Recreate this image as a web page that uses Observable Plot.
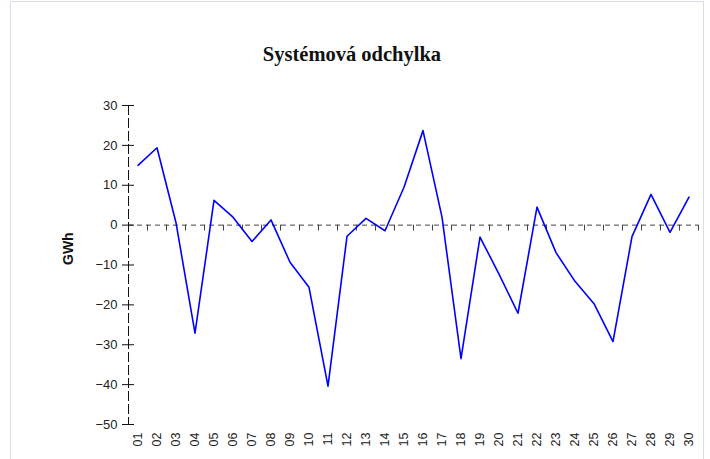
<!DOCTYPE html>
<html>
<head>
<meta charset="utf-8">
<script src="https://cdn.jsdelivr.net/npm/d3@7"></script>
<script src="https://cdn.jsdelivr.net/npm/@observablehq/plot@0.6"></script>
<style>
  html, body { margin: 0; padding: 0; background: #fff; }
  #wrap { position: relative; width: 710px; height: 459px; overflow: hidden; }
  #panel { position: absolute; left: 10px; top: 1px; width: 694px; height: 470px;
           border: 1px solid #d8deec; box-sizing: border-box; }
  #title { position: absolute; left: 0; top: 0; width: 704px; height: 80px; line-height: 108px;
           text-align: center; font-family: "Liberation Serif", "Times New Roman", serif;
           font-weight: bold; font-size: 20.5px; color: #111; }
  #chart { position: absolute; left: 0; top: 80px; }
</style>
</head>
<body>
<div id="wrap">
  <div id="panel"></div>
  <div id="title">Systémová odchylka</div>
  <div id="chart"></div>
</div>
<script>
const title = "Systémová odchylka";
const yLabel = "GWh";
const days = ["01","02","03","04","05","06","07","08","09","10",
              "11","12","13","14","15","16","17","18","19","20",
              "21","22","23","24","25","26","27","28","29","30"];
const values = [15.0, 19.4, 0.6, -27.1, 6.2, 2.0, -4.1, 1.3, -9.3, -15.6,
                -40.4, -2.8, 1.7, -1.4, 9.5, 23.7, 2.0, -33.5, -3.0, -12.3,
                -22.1, 4.5, -6.9, -14.1, -19.7, -29.2, -2.9, 7.7, -1.8, 7.0];
const yTicks = [-50, -40, -30, -20, -10, 0, 10, 20, 30];

const W = 710, ML = 128, MR = 12;
const plotW = W - ML - MR;
const idx = days.map((d, i) => i + 1);
const bounds = days.map((d, i) => i + 1.5);
const xDomain = [0.5, days.length + 0.5];

const chart = Plot.plot({
  width: W,
  height: 379,
  marginLeft: ML,
  marginRight: MR,
  marginTop: 25,
  marginBottom: 35,
  x: { type: "linear", domain: xDomain },
  y: { domain: [-50, 30] },
  style: { fontFamily: "'Liberation Sans', Arial, sans-serif", fontSize: "12.5px", color: "#222", background: "transparent" },
  marks: [
    Plot.ruleY([0], { stroke: "#444", strokeDasharray: "5,4" }),
    Plot.ruleX(bounds, { x: d => d, y1: 0, y2: -1.5, stroke: "#444" }),
    Plot.ruleX([xDomain[0]], { stroke: "#111", strokeDasharray: "10,3" }),
    Plot.tickY(yTicks, { y: d => d, stroke: "#111", insetLeft: -6, insetRight: plotW - 6 }),
    Plot.axisY({ ticks: yTicks, tickSize: 0, tickPadding: 11, label: null, fontSize: 13 }),
    Plot.axisX({ ticks: idx, tickFormat: i => days[i - 1], tickRotate: -90, tickSize: 0, tickPadding: 8, label: null }),
    Plot.text([yLabel], { frameAnchor: "left", dx: -60, rotate: -90, fontWeight: "bold", fontSize: 14, fill: "#111" }),
    Plot.line(values, { x: (d, i) => i + 1, y: d => d, stroke: "#0000ff", strokeWidth: 1.6 })
  ]
});
document.getElementById("chart").appendChild(chart);
</script>
</body>
</html>
